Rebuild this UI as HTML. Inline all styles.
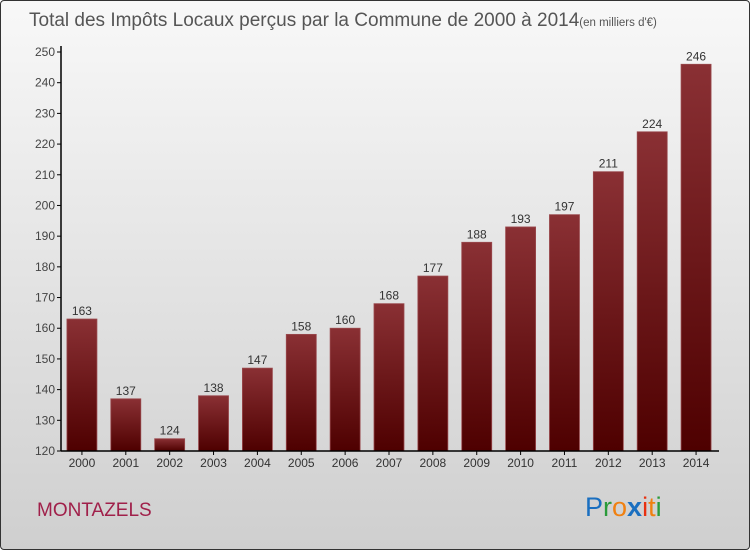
<!DOCTYPE html>
<html><head><meta charset="utf-8"><style>
body{margin:0;width:750px;height:550px;overflow:hidden;font-family:"Liberation Sans",sans-serif}
#c{position:absolute;left:0;top:0;width:748px;height:548px;border:1px solid #333;border-radius:4px;background:linear-gradient(#f8f8f8,#cfcfcf)}
</style></head><body>
<div id="c">
<svg width="750" height="550" id="s">
<defs><linearGradient id="g" x1="0" y1="0" x2="0" y2="1"><stop offset="0" stop-color="#8a3034"/><stop offset="1" stop-color="#4e0000"/></linearGradient></defs>
<text x="28" y="25" font-size="19" fill="#555">Total des Impôts Locaux perçus par la Commune de 2000 à 2014<tspan font-size="11.5">(en milliers d'€)</tspan></text>
<text x="36" y="515" font-size="19" fill="#a0204a">MONTAZELS</text>
<text x="584" y="515" font-size="27"><tspan fill="#1a6fc0">P</tspan><tspan fill="#2a9a3a">r</tspan><tspan fill="#f08010">o</tspan><tspan fill="#1a6fc0" font-weight="bold">x</tspan><tspan fill="#e83010">i</tspan><tspan fill="#f08010">t</tspan><tspan fill="#2a9a3a">i</tspan></text>
<g id="plot"></g>
</svg></div>
<script>
const years=["2000","2001","2002","2003","2004","2005","2006","2007","2008","2009","2010","2011","2012","2013","2014"];
const values=[163,137,124,138,147,158,160,168,177,188,193,197,211,224,246];
const ticks=[120,130,140,150,160,170,180,190,200,210,220,230,240,250];
const NS="http://www.w3.org/2000/svg",g=document.getElementById("plot");
const x0=60,x1=718,yTop=51,yBot=450,vmin=120,vmax=250;
const y=v=>yBot-(v-vmin)/(vmax-vmin)*(yBot-yTop);
const bw=(x1-x0)/years.length;
function el(t,a){const e=document.createElementNS(NS,t);for(const k in a)e.setAttribute(k,a[k]);g.appendChild(e);return e;}
ticks.forEach(t=>{
const l=el("line",{x1:x0-4,x2:x0,y1:y(t),y2:y(t),stroke:"#000"});


const tx=el("text",{x:x0-6,y:y(t)+4,"text-anchor":"end","font-size":"12",fill:"#444"});tx.textContent=t;


});
values.forEach((v,i)=>{
const cx=x0+bw*(i+0.5)-1;
const r=el("rect",{x:cx-15,y:y(v),width:30,height:yBot-y(v),fill:"url(#g)",stroke:"#9a4a4e","stroke-width":"0.8"});


const lb=el("text",{x:cx,y:y(v)-4,"text-anchor":"middle","font-size":"12",fill:"#333"});lb.textContent=v;


const tk=el("line",{x1:cx,x2:cx,y1:yBot,y2:yBot+4,stroke:"#000"});


const xl=el("text",{x:cx,y:yBot+16,"text-anchor":"middle","font-size":"12",fill:"#333"});xl.textContent=years[i];


});
const ya=el("line",{x1:x0,x2:x0,y1:yTop-6,y2:yBot,stroke:"#000","stroke-width":"1.5"});


const xa=el("line",{x1:x0,x2:x1,y1:yBot,y2:yBot,stroke:"#000","stroke-width":"1.5"});


</script>
</body></html>
